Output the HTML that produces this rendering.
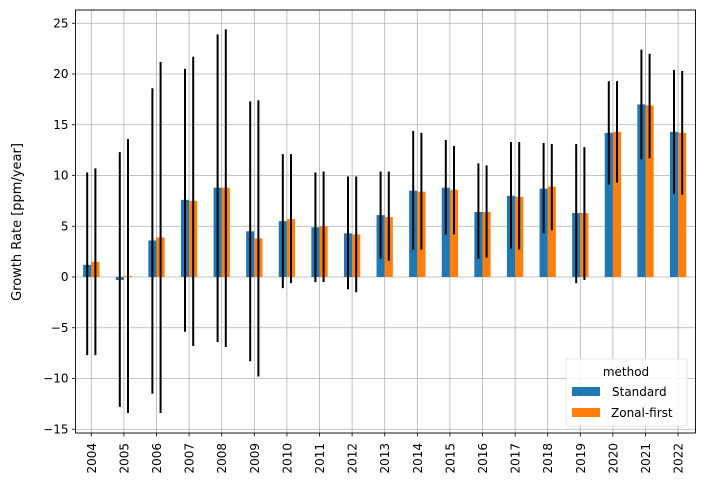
<!DOCTYPE html><html><head><style>body{margin:0;background:#fff}svg{display:block;font-family:"DejaVu Sans","Liberation Sans",sans-serif}</style></head><body>
<svg id="s" width="704" height="493" xmlns="http://www.w3.org/2000/svg"></svg>
<script>
const d=[[1.2,-7.7,10.3,1.5,-7.7,10.7],[-0.3,-12.8,12.3,0.1,-13.4,13.6],[3.6,-11.5,18.6,3.9,-13.4,21.2],[7.6,-5.4,20.5,7.5,-6.8,21.7],[8.8,-6.4,23.9,8.8,-6.9,24.4],[4.5,-8.3,17.3,3.8,-9.8,17.4],[5.5,-1.1,12.1,5.7,-0.6,12.1],[4.9,-0.5,10.3,5.0,-0.5,10.4],[4.3,-1.2,9.9,4.2,-1.5,9.9],[6.1,1.8,10.4,5.9,1.6,10.4],[8.5,2.7,14.4,8.4,2.7,14.2],[8.8,4.2,13.5,8.6,4.2,12.9],[6.4,1.8,11.2,6.4,1.9,11.0],[8.0,2.8,13.3,7.9,2.7,13.3],[8.7,4.3,13.2,8.9,4.6,13.1],[6.3,-0.6,13.1,6.3,-0.3,12.8],[14.2,9.1,19.3,14.3,9.3,19.3],[17.0,11.6,22.4,16.9,11.7,22.0],[14.3,8.2,20.4,14.2,8.1,20.3]];
const Y=v=>277-v*10.15, X=i=>91.3+i*32.6;
let h='';
const L=75.5,R=695.5,T=10,B=433;
for(let v=-15;v<=25;v+=5){const y=Y(v);h+=`<line x1="${L}" x2="${R}" y1="${y}" y2="${y}" stroke="#b0b0b0" stroke-width="0.8"/><line x1="${L-3.5}" x2="${L}" y1="${y}" y2="${y}" stroke="#000" stroke-width="0.8"/><text x="${L-7}" y="${y+4}" font-size="12" text-anchor="end">${v<0?'−'+(-v):v}</text>`;}
d.forEach((r,i)=>{const x=X(i);h+=`<line x1="${x}" x2="${x}" y1="${T}" y2="${B}" stroke="#b0b0b0" stroke-width="0.8"/>`;});
d.forEach((r,i)=>{const x=X(i);
const b=(x0,v,c)=>{const y0=Math.min(Y(v),Y(0)),hh=Math.abs(Y(v)-Y(0));return `<rect x="${x0}" y="${y0}" width="8.15" height="${hh}" fill="${c}"/>`};
h+=b(x-8.15,r[0],'#1f77b4')+b(x,r[3],'#ff7f0e');
h+=`<line x1="${x-4.1}" x2="${x-4.1}" y1="${Y(r[2])}" y2="${Y(r[1])}" stroke="#000" stroke-width="2"/><line x1="${x+4.1}" x2="${x+4.1}" y1="${Y(r[5])}" y2="${Y(r[4])}" stroke="#000" stroke-width="2"/>`;
h+=`<line x1="${x}" x2="${x}" y1="${B}" y2="${B+3.5}" stroke="#000" stroke-width="0.8"/><text transform="translate(${x+4.5},${B+10}) rotate(-90)" font-size="12" text-anchor="end">${2004+i}</text>`;});
h+=`<rect x="${L}" y="${T}" width="${R-L}" height="${B-T}" fill="none" stroke="#000" stroke-width="0.9"/>`;
h+=`<text transform="translate(21,222) rotate(-90)" font-size="13" text-anchor="middle">Growth Rate [ppm/year]</text>`;
h+=`<rect x="566" y="359" width="121" height="67" rx="2" fill="#fff" fill-opacity="0.85" stroke="#ddd" stroke-width="0.8"/><text x="626" y="376" font-size="12" text-anchor="middle">method</text><rect x="572" y="387" width="28" height="9" fill="#1f77b4"/><rect x="572" y="408" width="28" height="9" fill="#ff7f0e"/><text x="612" y="396" font-size="12">Standard</text><text x="611" y="417" font-size="12">Zonal-first</text>`;
document.getElementById('s').innerHTML=h;
</script></body></html>
